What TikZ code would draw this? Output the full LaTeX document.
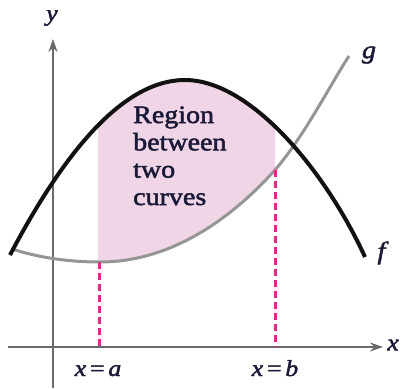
\documentclass[tikz,border=0pt]{standalone}
\usepackage{fontspec}
\setmainfont{Liberation Serif}[FakeStretch=1.12,FakeBold=2]
\usetikzlibrary{arrows.meta}
\definecolor{axisgray}{HTML}{6A6A6A}
\definecolor{ggray}{HTML}{959595}
\definecolor{fblack}{HTML}{111111}
\definecolor{dashmag}{HTML}{E02888}
\definecolor{regionpink}{HTML}{F0D5E7}
\definecolor{txtnavy}{HTML}{1A1A38}
\tikzset{
  axisline/.style={draw=axisgray,line width=2.2pt,-{Stealth[length=13pt,width=9pt]}},
  fcurve/.style={draw=fblack,line width=4pt},
  gcurve/.style={draw=ggray,line width=3pt},
  bound/.style={draw=dashmag,line width=3pt,dash pattern=on 7pt off 4pt},
  lbl/.style={text=txtnavy,inner sep=0pt,font=\fontsize{23}{25}\selectfont},
  regtext/.style={text=txtnavy,inner sep=0pt,anchor=base west,font=\fontsize{25}{27}\selectfont},
}
\begin{document}
\begin{tikzpicture}[x=1pt,y=-1pt]
\useasboundingbox (0,0) rectangle (403,388);
% shaded region
\begin{scope}
\clip (98,0) rectangle (275,388);
\fill[regionpink,even odd rule] (10,255) .. controls (60,160) and (120,80) .. (185,80)
  .. controls (250,80) and (325,170) .. (365,257) -- (350,55)
  .. controls (330,85) and (305,135) .. (275,170)
  .. controls (230,220) and (170,262) .. (100,262)
  .. controls (70,262) and (40,258) .. (12,249) -- cycle;
\end{scope}
% axes
\coordinate (xs) at (8,347);
\coordinate (xe) at (383,347);
\coordinate (ys) at (53,388);
\coordinate (ye) at (53,39);
\draw[axisline] (xs) -- (xe);
\draw[axisline] (ys) -- (ye);
% curves
\draw[gcurve] (12,249) .. controls (40,258) and (70,262) .. (100,262)
  .. controls (170,262) and (230,220) .. (275,170)
  .. controls (305,135) and (330,85) .. (349,56);
\draw[fcurve] (10,255) .. controls (60,160) and (120,80) .. (185,80)
  .. controls (250,80) and (325,170) .. (365,257);
% boundaries
\coordinate (at) at (99,262);
\coordinate (ab) at (99,347);
\coordinate (bt) at (275,170);
\coordinate (bb) at (275,347);
\draw[bound] (at) -- (ab);
\draw[bound] (bt) -- (bb);
% labels
\node[lbl] (ylab) at (52,18) {\textit{y}};
\node[lbl] (xlab) at (393,345) {\textit{x}};
\node[lbl,font=\fontsize{25}{27}\selectfont] (glab) at (369,55) {\textit{g}};
\node[lbl,font=\fontsize{25}{27}\selectfont] (flab) at (383,253) {\textit{f}};
\node[lbl,anchor=base] (alab) at (98,376) {\textit{x}\,=\,\textit{a}};
\node[lbl,anchor=base] (blab) at (275,376) {\textit{x}\,=\,\textit{b}};
\node[regtext] (r1) at (133,123) {Region};
\node[regtext] (r2) at (133,150.3) {between};
\node[regtext] (r3) at (133,177.6) {two};
\node[regtext] (r4) at (133,205) {curves};
\end{tikzpicture}
\end{document}
